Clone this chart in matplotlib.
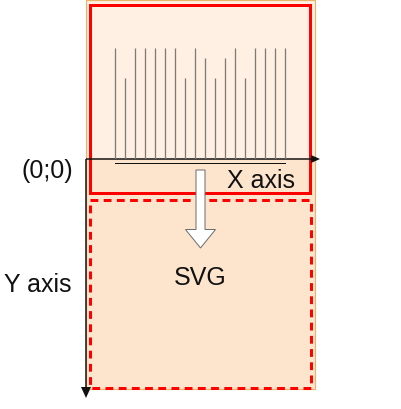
import numpy as np
import matplotlib
matplotlib.use("Agg")
import matplotlib.pyplot as plt
from matplotlib.patches import Rectangle, Polygon

# ---- data ----
bar_values = [11, 8, 11, 11, 11, 11, 11, 8, 11, 10, 8, 10, 11, 8, 11, 11, 11, 11]
label_origin = "(0;0)"
label_x = "X axis"
label_y = "Y axis"
label_svg = "SVG"

plt.rcParams['font.family'] = ['Liberation Sans', 'DejaVu Sans']

W, H = 401, 410
fig = plt.figure(figsize=(W / 100, H / 100), dpi=100)
ax = fig.add_axes([0, 0, 1, 1])
ax.set_xlim(0, W)
ax.set_ylim(H, 0)
ax.axis('off')

PX = 0.72  # px -> pt

# outer box (two fills) + orange border
ax.add_patch(Rectangle((86, 0.5), 229, 160, facecolor='#FFF0E3', edgecolor='none', zorder=1))
ax.add_patch(Rectangle((86, 160), 229, 230, facecolor='#FDE5CD', edgecolor='none', zorder=1))
ax.add_patch(Rectangle((86, 0.5), 229, 389.5, facecolor='none', edgecolor='#E9B46A', lw=1.2 * PX, zorder=2))

# red solid rect
ax.add_patch(Rectangle((90, 6), 220, 188, facecolor='none', edgecolor='#FF0000', lw=3 * PX, zorder=5))
# red dashed rect
ax.add_patch(Rectangle((90, 201), 221, 188, facecolor='none', edgecolor='#FF0000', lw=3 * PX,
                       linestyle=(0, (2.6, 1.8)), zorder=5))

# x axis
ax.plot([86, 313], [160, 160], color='#111111', lw=1.5 * PX, zorder=6, solid_capstyle='butt')
ax.add_patch(Polygon([[311, 156], [320, 160], [311, 164]], closed=True, facecolor='#111111',
                     edgecolor='none', zorder=6))
# y axis
ax.plot([86, 86], [160, 390], color='#111111', lw=1.5 * PX, zorder=6, solid_capstyle='butt')
ax.add_patch(Polygon([[81, 388], [86, 399], [91, 388]], closed=True, facecolor='#111111',
                     edgecolor='none', zorder=6))

# underline below x axis
ax.plot([115, 285], [164.3, 164.3], color='#111111', lw=1.0 * PX, zorder=6)

# hollow down arrow
arrow = [[196, 171], [205, 171], [205, 230.5], [215.5, 230.5], [200.5, 249],
         [185.5, 230.5], [196, 230.5]]
ax.add_patch(Polygon(arrow, closed=True, facecolor='white', edgecolor='#6E6E6E',
                     lw=1.0 * PX, zorder=7))

# texts
fs = 18
ax.text(73.5, 178.5, label_origin, ha='right', va='baseline', fontsize=fs, color='#111111', zorder=8)
ax.text(261, 188.5, label_x, ha='center', va='baseline', fontsize=fs, color='#111111', zorder=8)
ax.text(200.5, 285.2, label_svg, ha='center', va='baseline', fontsize=fs, color='#111111', zorder=8)
ax.text(37.8, 291.8, label_y, ha='center', va='baseline', fontsize=fs, color='#111111', zorder=8)

# bars in their own axes
n = len(bar_values)
unit_px = 10.07
left_px, right_px = 110, 290
base_px = 160
top_px = base_px - 11 * unit_px
bax = fig.add_axes([left_px / W, (H - base_px) / H, (right_px - left_px) / W, (base_px - top_px) / H])
bax.set_xlim(-0.5, n - 0.5)
bax.set_ylim(0, 11)
bax.axis('off')
bax.patch.set_alpha(0)
bax.vlines(np.arange(n), 0, bar_values, color='#7F7A76', lw=1.3 * PX)

fig.savefig('out.png', dpi=100)
